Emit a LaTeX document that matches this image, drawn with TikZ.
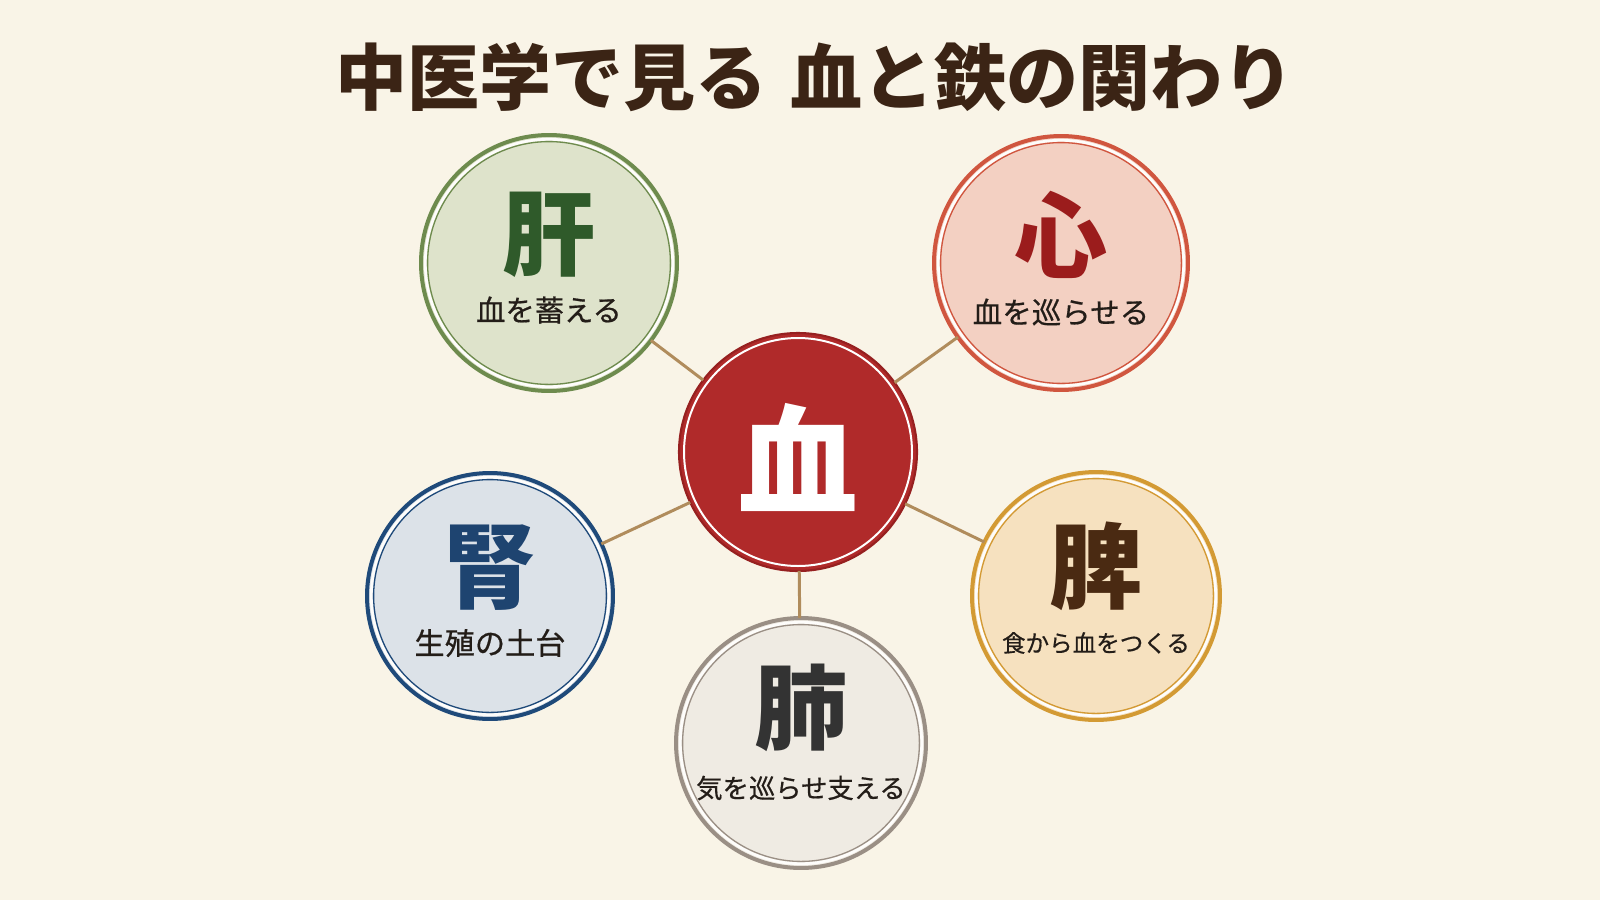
\documentclass[tikz,border=0pt]{standalone}
\usepackage{fontspec}
\newfontfamily\jp{Noto Sans CJK JP}
\newfontfamily\jpm[FakeBold=0.6]{Noto Sans CJK JP}
\definecolor{bg}{HTML}{F9F4E7}
\definecolor{conncol}{HTML}{B08C5C}
\definecolor{titlecol}{HTML}{3B2415}
\definecolor{subcol}{HTML}{231D18}
\definecolor{gstroke}{HTML}{6E8B4E}\definecolor{gfill}{HTML}{DEE3CB}\definecolor{gtext}{HTML}{2F5A2A}
\definecolor{rstroke}{HTML}{D0563F}\definecolor{rfill}{HTML}{F3D0C2}\definecolor{rtext}{HTML}{9B1C1C}
\definecolor{cfill}{HTML}{B02A2A}\definecolor{cstroke}{HTML}{962020}
\definecolor{bstroke}{HTML}{1F4A7A}\definecolor{bfill}{HTML}{DCE2E8}\definecolor{btext}{HTML}{1E4470}
\definecolor{ystroke}{HTML}{D39A34}\definecolor{yfill}{HTML}{F6E1BF}\definecolor{ytext}{HTML}{4A2A12}
\definecolor{hstroke}{HTML}{9A8F85}\definecolor{hfill}{HTML}{EFEBE3}\definecolor{htext}{HTML}{333333}
\tikzset{
  organ/.style 2 args={circle, draw=#1, fill=#2, line width=2.28pt, inner sep=0pt, outer sep=0pt},
  whitering/.style={draw=white!85!bg, line width=1.54pt},
  thinring/.style={line width=0.74pt},
  conn/.style={draw=conncol, line width=1.7pt},
  bigglyph/.style={font=\jp\bfseries\fontsize{53pt}{53pt}\selectfont, inner sep=0pt},
  subtext/.style={font=\jpm\fontsize{#1}{#1}\selectfont, text=subcol, inner sep=0pt},
}
\begin{document}
\begin{tikzpicture}[x=0.02cm,y=-0.02cm]
\fill[bg] (0,0) rectangle (1600,900);
\useasboundingbox (0,0) rectangle (1600,900);

% title
\node[font=\jp\bfseries\fontsize{41pt}{41pt}\selectfont, text=titlecol, inner sep=0pt] (title) at (815,77) {中医学で見る\hspace{0.32em}血と鉄の関わり};

% circles
\node[circle, fill=cfill, draw=cstroke, line width=1.2pt, minimum size=4.76cm, inner sep=0pt, outer sep=0pt] (ketsu) at (798,452) {};
\node[organ={gstroke}{gfill}, minimum size=5.12cm] (gan) at (549,263) {};
\node[organ={rstroke}{rfill}, minimum size=5.08cm] (shin) at (1061,263) {};
\node[organ={bstroke}{bfill}, minimum size=4.92cm] (jin) at (490,596) {};
\node[organ={ystroke}{yfill}, minimum size=4.96cm] (hi) at (1096,596) {};
\node[organ={hstroke}{hfill}, minimum size=5.0cm] (hai) at (801,743) {};

% inner rings
\draw[draw=white, line width=1.14pt] (ketsu.center) circle[radius=114];
\foreach \n/\r/\c in {gan/129/gstroke, shin/128/rstroke, jin/124/bstroke, hi/125/ystroke, hai/126/hstroke}{
  \draw[whitering] (\n.center) circle[radius=\r-5.3];
  \draw[thinring, draw=\c] (\n.center) circle[radius=\r-7.6];
}

% connectors
\draw[conn] (ketsu) -- (gan);
\draw[conn] (ketsu) -- (shin);
\draw[conn] (ketsu) -- (jin);
\draw[conn] (ketsu) -- (hi);
\draw[conn] (ketsu) -- (hai);

% glyphs
\node[font=\jp\bfseries\fontsize{68pt}{68pt}\selectfont, text=white, inner sep=0pt] (gketsu) at (798,457) {血};
\node[bigglyph, text=gtext] (ggan) at (549,235) {肝};
\node[bigglyph, text=rtext] (gshin) at (1061,235) {心};
\node[bigglyph, text=btext] (gjin) at (490,568) {腎};
\node[bigglyph, text=ytext] (ghi) at (1096,566) {脾};
\node[bigglyph, text=htext] (ghai) at (801,708) {肺};

% subtitles
\node[subtext=16.7pt] (sgan) at (549,310) {血を蓄える};
\node[subtext=16.8pt] (sshin) at (1061,312) {血を巡らせる};
\node[subtext=17.2pt] (sjin) at (490,643) {生殖の土台};
\node[subtext=13.4pt] (shi) at (1096,643) {食から血をつくる};
\node[subtext=15.0pt] (shai) at (801,788) {気を巡らせ支える};
\end{tikzpicture}
\end{document}
